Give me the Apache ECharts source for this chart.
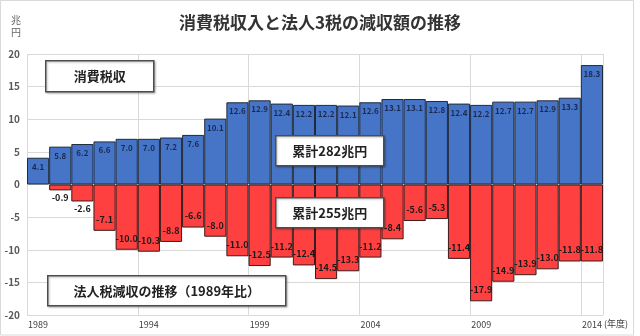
<!DOCTYPE html>
<html>
<head>
<meta charset="utf-8">
<script src="https://cdn.jsdelivr.net/npm/echarts@6/dist/echarts.min.js"></script>
<style>
html,body{margin:0;padding:0;background:#fff;}
#main{width:640px;height:336px;}
</style>
</head>
<body>
<div id="main"></div>
<script>
const years = ['1989','1990','1991','1992','1993','1994','1995','1996','1997','1998','1999','2000','2001','2002','2003','2004','2005','2006','2007','2008','2009','2010','2011','2012','2013','2014'];
const consumptionTax = [4.1,5.8,6.2,6.6,7.0,7.0,7.2,7.6,10.1,12.6,12.9,12.4,12.2,12.2,12.1,12.6,13.1,13.1,12.8,12.4,12.2,12.7,12.7,12.9,13.3,18.3];
const corporateTaxLoss = [null,-0.9,-2.6,-7.1,-10.0,-10.3,-8.8,-6.6,-8.0,-11.0,-12.5,-11.2,-12.4,-14.5,-13.3,-11.2,-8.4,-5.6,-5.3,-11.4,-17.9,-14.9,-13.9,-13.0,-11.8,-11.8];
const yTicks = [-20,-15,-10,-5,0,5,10,15,20];

const FONT = '"Noto Sans CJK JP", "Noto Sans", sans-serif';

function box(x, y, w, h, text) {
  return {
    type: 'group', left: x, top: y, z: 100,
    children: [
      { type: 'rect', z: 100, shape: { x: 0, y: 0, width: w, height: h },
        style: { fill: '#fff', stroke: '#4d4d4d', lineWidth: 1.5,
                 shadowBlur: 2, shadowColor: 'rgba(0,0,0,0.25)', shadowOffsetX: 1, shadowOffsetY: 1 } },
      { type: 'text', z: 101, x: w / 2, y: h / 2,
        style: { text: text, fill: '#222', font: 'bold 13px ' + FONT, align: 'center', verticalAlign: 'middle' } }
    ]
  };
}

const chart = echarts.init(document.getElementById('main'), null, { renderer: 'canvas' });
chart.setOption({
  animation: false,
  backgroundColor: '#fff',
  title: {
    text: '消費税収入と法人3税の減収額の推移',
    left: 'center', top: 9,
    textStyle: { fontFamily: FONT, fontSize: 17, fontWeight: 'bold', color: '#333' }
  },
  grid: { left: 27, right: 37, top: 54, bottom: 21, containLabel: false },
  xAxis: {
    type: 'category',
    data: years,
    boundaryGap: true,
    axisLine: { show: false },
    axisTick: { show: false },
    axisLabel: { interval: 4, margin: 5, fontSize: 9, color: '#404040', fontFamily: FONT },
    splitLine: { show: true, interval: 4, lineStyle: { color: '#d9d9d9', width: 1 } }
  },
  yAxis: {
    type: 'value',
    min: yTicks[0], max: yTicks[yTicks.length - 1], interval: 5,
    axisLine: { show: false },
    axisTick: { show: false },
    axisLabel: { margin: 7, fontSize: 10, fontWeight: 'bold', color: '#595959', fontFamily: FONT },
    splitLine: { lineStyle: { color: '#d9d9d9', width: 1 } }
  },
  series: [
    {
      name: '消費税収', type: 'bar', data: consumptionTax,
      barCategoryGap: 0, barGap: '-100%',
      itemStyle: { color: '#4675c8', borderColor: '#1f2a3a', borderWidth: 1 },
      label: { show: true, position: 'insideTop', distance: 5, fontSize: 8, fontWeight: 'bold',
               color: '#1a2a50', fontFamily: FONT, formatter: p => p.value.toFixed(1) }
    },
    {
      name: '法人税減収', type: 'bar',
      data: corporateTaxLoss.map(v => v === null ? '-' : {
        value: v,
        label: Math.abs(v) < 3 ? { position: 'bottom', distance: 3 } : { position: 'insideBottom', distance: 7 }
      }),
      barCategoryGap: 0, barGap: '-100%',
      itemStyle: { color: '#ff4040', borderColor: '#3a1a1a', borderWidth: 1 },
      label: { show: true, position: 'insideBottom', fontSize: 9, fontWeight: 'bold',
               color: '#1a1a1a', fontFamily: FONT, formatter: p => p.value.toFixed(1) }
    }
  ],
  graphic: [
    { type: 'rect', z: 100, shape: { x: 0.5, y: 0.5, width: 633, height: 334.5 },
      style: { fill: 'none', stroke: '#d9d9d9', lineWidth: 1 }, silent: true },
    { type: 'text', z: 100, left: 11, top: 14,
      style: { text: '兆\n円', font: '10px ' + FONT, fill: '#666', lineHeight: 12 } },
    { type: 'text', z: 100, left: 604, top: 319,
      style: { text: '(年度)', font: '9px ' + FONT, fill: '#404040' } },
    box(45, 60, 108, 31, '消費税収'),
    box(275, 135, 108, 30, '累計282兆円'),
    box(275, 197, 108, 30, '累計255兆円'),
    box(47, 275, 238, 30, '法人税減収の推移（1989年比）')
  ]
});
</script>
</body>
</html>
